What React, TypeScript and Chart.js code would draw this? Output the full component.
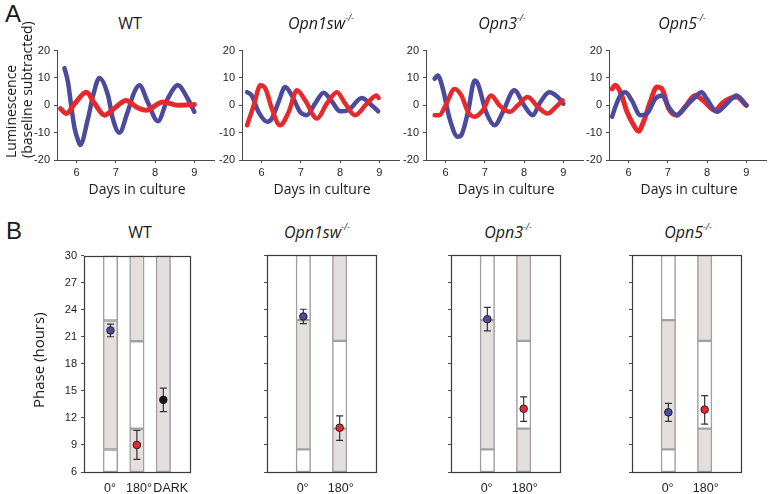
import React, { useEffect, useRef } from 'react';
import { Chart, registerables } from 'chart.js';

Chart.register(...registerables);

const BLUE = '#4b4a9c';
const RED = '#e8292b';
const DARKDOT = '#151515';
const TICK_FONT = "'Liberation Sans', Arial, sans-serif";
const LABEL_FONT = "'Open Sans', 'Noto Sans', sans-serif";

// ---------- Panel A data ----------
const dayTicks = [6, 7, 8, 9];
const lumTicks = [-20, -10, 0, 10, 20];

const wtBlueDays = [5.69, 5.78, 5.86, 5.95, 6.05, 6.09, 6.29, 6.42, 6.58, 6.8, 6.92, 7.09, 7.3, 7.47, 7.6, 7.81, 8.07, 8.32, 8.58, 8.83, 9.0];
const wtBlueLum = [13.6, 8.5, 0, -8.5, -13.3, -14.5, -4.8, 3.6, 10, 3.6, -4.8, -10, -2.4, 4.8, 7.3, 1.2, -5.8, 2.4, 7.3, 2.4, -2.4];
const wtRedDays = [5.59, 5.74, 5.95, 6.25, 6.46, 6.71, 7.0, 7.26, 7.52, 7.77, 8.2, 8.58, 9.0];
const wtRedLum = [-1.2, -3, 0.6, 4.8, 0.6, -3.6, -0.6, 1.8, -0.6, -1.8, 1.2, 0, 0.3];

const opn1BlueDays = [5.63, 5.75, 5.92, 6.14, 6.26, 6.43, 6.6, 6.77, 6.98, 7.15, 7.36, 7.58, 7.8, 8.0, 8.21, 8.55, 8.76, 8.97];
const opn1BlueLum = [4.8, 3.5, -2.4, -6, -4.8, 1.2, 6.7, 3.6, -2.4, -3.6, 0.6, 4.6, 1.2, -2.2, -1.8, 2.7, 0.6, -2.2];
const opn1RedDays = [5.63, 5.8, 5.97, 6.1, 6.26, 6.47, 6.69, 6.9, 7.11, 7.41, 7.66, 7.92, 8.13, 8.38, 8.68, 8.93, 8.98];
const opn1RedLum = [-7.3, 0, 7.3, 6, -1.2, -7.3, -2.4, 5.5, 1.8, -4.8, 0.6, 4.8, 0.6, -3.6, 0.6, 3.6, 2.7];

const opn3BlueDays = [5.72, 5.8, 5.93, 6.1, 6.31, 6.4, 6.57, 6.74, 6.82, 7.03, 7.25, 7.46, 7.75, 8.0, 8.22, 8.39, 8.64, 8.86, 9.0];
const opn3BlueLum = [9.7, 10.9, 6, -4.8, -11.5, -10.9, -2.4, 9.1, 7.9, -2.4, -7.3, -2.4, 5.5, 0, -3.6, 0.6, 4.8, 3, 0.6];
const opn3RedDays = [5.72, 5.84, 6.0, 6.23, 6.4, 6.57, 6.74, 6.95, 7.16, 7.37, 7.63, 7.84, 8.09, 8.35, 8.6, 8.81, 8.98];
const opn3RedLum = [-3.6, -3.6, 0, 6, 3.6, -2.4, -4.2, -1.8, 3.6, 0, -2.4, 0, 3, -0.6, -3, -0.6, 1.8];

const opn5RedDays = [5.58, 5.66, 5.79, 5.96, 6.13, 6.25, 6.38, 6.55, 6.72, 6.85, 7.02, 7.23, 7.44, 7.69, 7.9, 8.2, 8.42, 8.75, 9.0];
const opn5RedLum = [6, 7.3, 4.8, -2.4, -7.3, -9.5, -6, 1.2, 6.7, 6, -1.2, -3.6, -0.6, 3.6, 1.8, -1.8, 1.2, 3, 0];
const opn5BlueDays = [5.58, 5.66, 5.79, 5.92, 6.08, 6.3, 6.47, 6.68, 6.85, 7.02, 7.23, 7.44, 7.65, 7.86, 7.99, 8.25, 8.5, 8.75, 9.0];
const opn5BlueLum = [-4.2, -0.6, 3.6, 4.8, 1.8, -3.6, -3, 2.4, 3.6, -0.6, -3.6, -0.6, 2.4, 4.8, 2.4, -2.4, 0.6, 3.6, 0];

// ---------- Panel B data ----------
const phaseTicks = [6, 9, 12, 15, 18, 21, 24, 27, 30];
const dark0 = [[8.5, 22.8]];
const light0 = [[22.8, 30], [6, 8.5]];
const dark180 = [[20.5, 30], [6, 10.8]];
const light180 = [[10.8, 20.5]];
const darkDD = [[6, 30]];

const wtGroups = ['0°', '180°', 'DARK'];
const wtLabelAt = [0.98, 2.08, 3.28];
const wtPhase = [21.7, 9.0, 14.0];
const wtLow = [21.0, 7.4, 12.7];
const wtHigh = [22.4, 10.6, 15.3];

const koGroups = ['0°', '180°'];
const koLabelAt = [0.98, 2.03];
const opn1Phase = [23.2, 10.9];
const opn1Low = [22.4, 9.5];
const opn1High = [24.0, 12.2];
const opn3Phase = [22.9, 13.0];
const opn3Low = [21.6, 11.6];
const opn3High = [24.2, 14.3];
const opn5Phase = [12.6, 12.9];
const opn5Low = [11.6, 11.3];
const opn5High = [13.6, 14.45];

// ---------- helpers ----------
const AXIS = '#4a4a4a';

function series(days: number[], vals: number[], color: string, width: number) {
  return {
    type: 'line',
    data: days.map((d, i) => ({ x: d, y: vals[i] })),
    borderColor: color,
    backgroundColor: color,
    borderWidth: width,
    pointRadius: 0,
    cubicInterpolationMode: 'monotone',
    borderCapStyle: 'round',
    borderJoinStyle: 'round',
    fill: false,
  };
}

function lumConfig(datasets: any[]) {
  return {
    type: 'line',
    data: { datasets },
    options: {
      animation: false,
      responsive: false,
      maintainAspectRatio: false,
      events: [],
      layout: { padding: { left: 10, right: 2, top: 10, bottom: 2 } },
      plugins: { legend: { display: false }, tooltip: { enabled: false } },
      scales: {
        x: {
          type: 'linear',
          min: 5.5,
          max: 9.5,
          afterBuildTicks: (ax: any) => { ax.ticks = dayTicks.map((v) => ({ value: v })); },
          afterFit: (s: any) => { s.height = 20; },
          grid: { display: true, drawOnChartArea: false, tickLength: 3, color: AXIS, lineWidth: 1 },
          border: { display: true, color: AXIS, width: 1 },
          ticks: { font: { family: TICK_FONT, size: 11 }, color: '#222', padding: 3, maxRotation: 0, autoSkip: false },
        },
        y: {
          type: 'linear',
          min: -20,
          max: 20,
          afterBuildTicks: (ax: any) => { ax.ticks = lumTicks.map((v) => ({ value: v })); },
          afterFit: (s: any) => { s.width = 30; },
          grid: { display: true, drawOnChartArea: false, tickLength: 3, color: AXIS, lineWidth: 1 },
          border: { display: true, color: AXIS, width: 1 },
          ticks: { font: { family: TICK_FONT, size: 11 }, color: '#222', padding: 4, autoSkip: false },
        },
      },
    },
  };
}

const errBarPlugin = {
  id: 'errbars',
  beforeDatasetDraw(chart: any, args: any, opts: any) {
    if (args.index !== 0 || !opts || !opts.low) return;
    const { ctx } = chart;
    const xs = chart.scales.x;
    const ys = chart.scales.y;
    ctx.save();
    ctx.strokeStyle = '#333';
    ctx.lineWidth = 1.2;
    opts.low.forEach((lo: number, i: number) => {
      const px = xs.getPixelForValue(i + 1);
      const y1 = ys.getPixelForValue(lo);
      const y2 = ys.getPixelForValue(opts.high[i]);
      ctx.beginPath();
      ctx.moveTo(px, y1); ctx.lineTo(px, y2);
      ctx.moveTo(px - 3.5, y1); ctx.lineTo(px + 3.5, y1);
      ctx.moveTo(px - 3.5, y2); ctx.lineTo(px + 3.5, y2);
      ctx.stroke();
    });
    ctx.restore();
  },
};

const boxPlugin = {
  id: 'boxframe',
  afterDraw(chart: any) {
    const { ctx, chartArea: a } = chart;
    ctx.save();
    ctx.strokeStyle = '#3a3a3a';
    ctx.lineWidth = 1.2;
    ctx.strokeRect(Math.round(a.left) + 0.5, Math.round(a.top) + 0.5, Math.round(a.right - a.left), Math.round(a.bottom - a.top));
    ctx.restore();
  },
};

function segments(cols: number[][][], fill: string) {
  const data: any[] = [];
  cols.forEach((ranges, ci) => ranges.forEach((r) => data.push({ x: ci + 1, y: [r[0], r[1]] })));
  return {
    type: 'bar',
    data,
    backgroundColor: fill,
    borderColor: '#a0a0a0',
    borderWidth: 1.5,
    borderSkipped: false,
    barThickness: 14.5,
    grouped: false,
  };
}

function phaseConfig(groups: string[], labelAt: number[], phase: number[], low: number[], high: number[], colors: string[], darkCols: number[][][], lightCols: number[][][], showLabels: boolean) {
  return {
    type: 'bar',
    data: {
      datasets: [
        {
          type: 'scatter',
          data: phase.map((p, i) => ({ x: i + 1, y: p })),
          pointRadius: 3.8,
          pointBackgroundColor: colors,
          pointBorderColor: '#202030',
          pointBorderWidth: 1,
        },
        segments(darkCols, '#e4dfdc'),
        segments(lightCols, '#ffffff'),
      ],
    },
    plugins: [errBarPlugin, boxPlugin],
    options: {
      animation: false,
      responsive: false,
      maintainAspectRatio: false,
      events: [],
      layout: { padding: { left: 10, right: 4, top: 10, bottom: 2 } },
      plugins: { legend: { display: false }, tooltip: { enabled: false }, errbars: { low, high } },
      scales: {
        x: {
          type: 'linear',
          offset: false,
          bounds: 'data',
          min: 0,
          max: groups.length + 1,
          afterBuildTicks: (ax: any) => { ax.ticks = labelAt.map((v) => ({ value: v })); },
          afterFit: (s: any) => { s.height = 20; },
          grid: { display: false, drawTicks: false, offset: false },
          border: { display: false },
          ticks: {
            font: { family: TICK_FONT, size: 12.5 },
            color: '#222',
            padding: 9,
            maxRotation: 0,
            autoSkip: false,
            callback: (_v: any, i: number) => groups[i],
          },
        },
        y: {
          type: 'linear',
          min: 6,
          max: 30,
          beginAtZero: false,
          afterBuildTicks: (ax: any) => { ax.ticks = phaseTicks.map((v) => ({ value: v })); },
          afterFit: (s: any) => { s.width = 30; },
          grid: { display: true, drawOnChartArea: false, tickLength: 3, color: AXIS, lineWidth: 1 },
          border: { display: false },
          ticks: { display: showLabels, font: { family: TICK_FONT, size: 11 }, color: '#222', padding: 4, autoSkip: false },
        },
      },
    },
  };
}

function ChartBox(props: { left: number; top: number; width: number; height: number; make: () => any }) {
  const ref = useRef<HTMLCanvasElement | null>(null);
  useEffect(() => {
    if (!ref.current) return;
    const chart = new Chart(ref.current, props.make());
    return () => chart.destroy();
  }, []);
  return (
    <canvas
      ref={ref}
      width={props.width}
      height={props.height}
      style={{ position: 'absolute', left: props.left, top: props.top, width: props.width, height: props.height }}
    />
  );
}

function Txt(props: { x: number; y: number; size: number; children: any; italic?: boolean; family?: string }) {
  return (
    <div
      style={{
        position: 'absolute',
        left: props.x,
        top: props.y,
        transform: 'translate(-50%, -50%)',
        fontFamily: props.family || LABEL_FONT,
        fontSize: props.size,
        fontStyle: props.italic ? 'italic' : 'normal',
        lineHeight: 1,
        whiteSpace: 'nowrap',
        color: '#1a1a1a',
      }}
    >
      {props.children}
    </div>
  );
}

function KO(props: { name: string }) {
  return (
    <span>
      <i>{props.name}</i>
      <sup style={{ fontSize: 9, fontStyle: 'italic', position: 'relative', top: -2 }}>-/-</sup>
    </span>
  );
}

const topAxisX = [57, 242, 426, 609];
const botBoxX = [84, 267, 451, 632];

export default function App() {
  const lumSets = [
    [series(wtRedDays, wtRedLum, RED, 5), series(wtBlueDays, wtBlueLum, BLUE, 4.5)],
    [series(opn1RedDays, opn1RedLum, RED, 4.5), series(opn1BlueDays, opn1BlueLum, BLUE, 4.5)],
    [series(opn3RedDays, opn3RedLum, RED, 4.5), series(opn3BlueDays, opn3BlueLum, BLUE, 4.5)],
    [series(opn5BlueDays, opn5BlueLum, BLUE, 4.5), series(opn5RedDays, opn5RedLum, RED, 5)],
  ];
  const phaseMakers = [
    () => phaseConfig(wtGroups, wtLabelAt, wtPhase, wtLow, wtHigh, [BLUE, RED, DARKDOT], [dark0, dark180, darkDD], [light0, light180, []], true),
    () => phaseConfig(koGroups, koLabelAt, opn1Phase, opn1Low, opn1High, [BLUE, RED], [dark0, dark180], [light0, light180], false),
    () => phaseConfig(koGroups, koLabelAt, opn3Phase, opn3Low, opn3High, [BLUE, RED], [dark0, dark180], [light0, light180], false),
    () => phaseConfig(koGroups, koLabelAt, opn5Phase, opn5Low, opn5High, [BLUE, RED], [dark0, dark180], [light0, light180], false),
  ];
  return (
    <div style={{ position: 'absolute', left: 0, top: 0, width: 768, height: 494, overflow: 'hidden', background: '#fff' }}>
      {topAxisX.map((ax, i) => (
        <ChartBox key={'a' + i} left={ax - 40} top={40} width={199} height={142} make={() => lumConfig(lumSets[i])} />
      ))}
      {botBoxX.map((bx, i) => (
        <ChartBox key={'b' + i} left={bx - 40} top={245} width={154} height={249} make={phaseMakers[i]} />
      ))}

      <Txt x={13} y={14} size={24} family={TICK_FONT}>A</Txt>
      <Txt x={14} y={231} size={24} family={TICK_FONT}>B</Txt>

      <Txt x={130} y={23} size={16}>WT</Txt>
      <Txt x={321} y={23} size={16}><KO name="Opn1sw" /></Txt>
      <Txt x={502} y={23} size={16}><KO name="Opn3" /></Txt>
      <Txt x={682} y={23} size={16}><KO name="Opn5" /></Txt>

      {[137, 322, 506, 689].map((x, i) => (
        <Txt key={'d' + i} x={x} y={189} size={14}>Days in culture</Txt>
      ))}

      <div
        style={{
          position: 'absolute',
          left: 3,
          top: 158,
          transformOrigin: 'left top',
          transform: 'rotate(-90deg)',
          fontFamily: LABEL_FONT,
          fontSize: 14,
          lineHeight: '16px',
          whiteSpace: 'nowrap',
          color: '#1a1a1a',
        }}
      >
        Luminescence
        <br />
        (baseline subtracted)
      </div>

      <div
        style={{
          position: 'absolute',
          left: 30,
          top: 408,
          transformOrigin: 'left top',
          transform: 'rotate(-90deg)',
          fontFamily: LABEL_FONT,
          fontSize: 15,
          lineHeight: '17px',
          whiteSpace: 'nowrap',
          color: '#1a1a1a',
        }}
      >
        Phase (hours)
      </div>

      <Txt x={140} y={232} size={16}>WT</Txt>
      <Txt x={317} y={232} size={16}><KO name="Opn1sw" /></Txt>
      <Txt x={508} y={232} size={16}><KO name="Opn3" /></Txt>
      <Txt x={688} y={232} size={16}><KO name="Opn5" /></Txt>
    </div>
  );
}
